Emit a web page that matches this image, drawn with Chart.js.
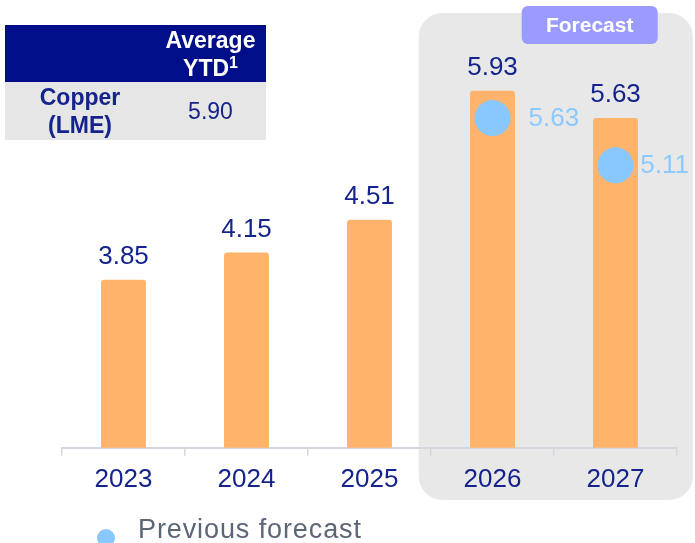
<!DOCTYPE html>
<html>
<head>
<meta charset="utf-8">
<script src="https://cdn.jsdelivr.net/npm/chart.js@4/dist/chart.umd.min.js"></script>
<style>
  body { margin: 0; background: #fff; font-family: "Liberation Sans", Arial, sans-serif; }
  #wrap { position: relative; width: 695px; height: 543px; overflow: hidden; }
  #copper { position: absolute; left: 5px; top: 25px; width: 261px; border-collapse: collapse; }
  #copper th { background: #000f89; color: #fff; font-size: 23px; font-weight: bold; line-height: 28px; height: 57px; padding: 0; text-align: center; }
  #copper th sup { font-size: 16px; line-height: 0; vertical-align: 8px; }
  #copper td { background: #e6e6e6; color: #14248c; font-size: 23px; line-height: 28px; height: 58px; padding: 0; text-align: center; }
  #copper td.name { font-weight: bold; }
  #legend { position: absolute; left: 97px; top: 514px; font-size: 27px; color: #5b6677; letter-spacing: 0.9px; white-space: nowrap; }
  #legend span { display: inline-block; width: 18px; height: 18px; border-radius: 50%; background: #89c7ff; margin-right: 23px; vertical-align: -9px; }
</style>
</head>
<body>
<div id="wrap">
  <canvas id="myChart" width="695" height="543"></canvas>
  <table id="copper">
    <tr><th style="width:150px"></th><th>Average<br>YTD<sup>1</sup></th></tr>
    <tr><td class="name">Copper<br>(LME)</td><td>5.90</td></tr>
  </table>
  <div id="legend"><span></span>Previous forecast</div>
</div>
<script>
const years = ['2023', '2024', '2025', '2026', '2027'];
const copperPrice = [3.85, 4.15, 4.51, 5.93, 5.63];
const previousForecast = [null, null, null, 5.63, 5.11];
const forecastFrom = 3; // index of first forecast year

const navy = '#14248c';
const font = '"Liberation Sans", Arial, sans-serif';

// grey panel + "Forecast" tag behind the forecast years
const forecastPanel = {
    id: 'forecastPanel',
    beforeDraw(chart) {
        const c = chart.ctx;
        const x = chart.scales.x;
        const w = x.getPixelForValue(1) - x.getPixelForValue(0);
        const left = x.getPixelForValue(forecastFrom) - w * 0.6;
        const right = x.getPixelForValue(years.length - 1) + w * 0.63;
        c.save();
        c.fillStyle = '#e8e8e8';
        c.beginPath();
        c.roundRect(left, 13, right - left, 487, 24);
        c.fill();

        const tagX = left + 103, tagW = 136;
        c.fillStyle = '#9b9bff';
        c.beginPath();
        c.roundRect(tagX, 6, tagW, 38, 6);
        c.fill();
        c.fillStyle = '#fff';
        c.font = 'bold 21px ' + font;
        c.textAlign = 'center';
        c.textBaseline = 'middle';
        c.fillText('Forecast', tagX + tagW / 2, 26);
        c.restore();
    }
};

// value labels: above the bars, right of the previous forecast dots
const valueLabels = {
    id: 'valueLabels',
    afterDatasetsDraw(chart) {
        const c = chart.ctx;
        c.save();
        c.font = '26px ' + font;
        c.textBaseline = 'middle';

        c.fillStyle = navy;
        c.textAlign = 'center';
        chart.getDatasetMeta(0).data.forEach((bar, i) => {
            c.fillText(copperPrice[i].toFixed(2), bar.x, bar.y - 23);
        });

        c.fillStyle = '#8cc9ff';
        c.textAlign = 'left';
        chart.getDatasetMeta(1).data.forEach((pt, i) => {
            if (previousForecast[i] == null) return;
            const txt = previousForecast[i].toFixed(2);
            const tx = Math.min(pt.x + 36, chart.width - c.measureText(txt).width - 6);
            c.fillText(txt, tx, pt.y + 1);
        });
        c.restore();
    }
};

const myChart = new Chart(document.getElementById('myChart'), {
    type: 'bar',
    data: {
        labels: years,
        datasets: [{
            label: 'Copper',
            data: copperPrice,
            backgroundColor: '#ffb36b',
            borderRadius: 3,
            borderSkipped: 'bottom',
            barPercentage: 0.365,
            categoryPercentage: 1,
            order: 2
        }, {
            type: 'line',
            label: 'Previous forecast',
            data: previousForecast,
            showLine: false,
            pointRadius: 18,
            pointHoverRadius: 18,
            pointBackgroundColor: '#89c7ff',
            pointBorderWidth: 0,
            order: 1
        }]
    },
    options: {
        responsive: false,
        animation: false,
        layout: { padding: { left: 62, right: 18, top: 39, bottom: 40 } },
        plugins: {
            legend: { display: false },
            tooltip: { enabled: false }
        },
        scales: {
            x: {
                grid: { drawOnChartArea: false, drawTicks: true, tickLength: 8, color: '#d3d8df', lineWidth: 1.5 },
                border: { display: true, color: '#d3d8df', width: 2 },
                ticks: { color: navy, padding: 8, font: { family: font, size: 26 } }
            },
            y: {
                display: false,
                min: 2,
                max: 6.5
            }
        }
    },
    plugins: [forecastPanel, valueLabels]
});
</script>
</body>
</html>
